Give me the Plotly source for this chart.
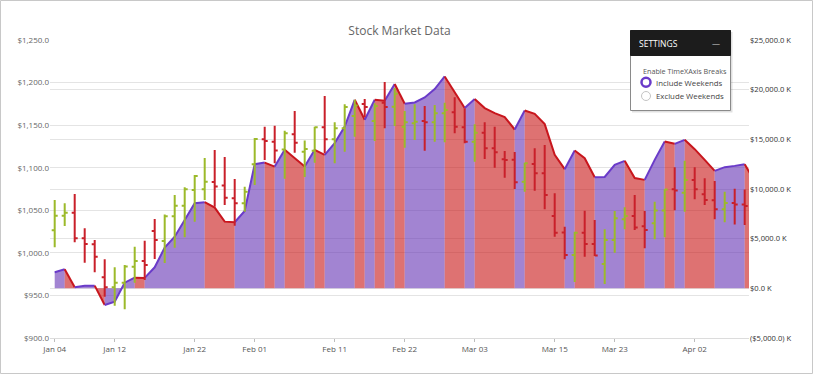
import pandas as pd
import plotly.graph_objects as go

# ---------------- data ----------------
dates = [d.strftime("%Y-%m-%d") for d in pd.bdate_range("2010-01-04", periods=71)]

open_ = [1026.5, 1043.6, 1047.2, 1017.1, 1010.0, 971.3, 959.5, 965.0, 983.8, 990.4,
         1025.7, 1014.0, 1043.0, 1055.4, 1073.8, 1074.7, 1083.2, 1079.1, 1064.1, 1058.2,
         1104.0, 1133.4, 1130.6, 1121.4, 1139.3, 1118.8, 1120.0, 1147.5, 1133.4, 1146.3,
         1160.7, 1174.9, 1154.9, 1176.2, 1171.7, 1148.2, 1152.2, 1154.9, 1153.3, 1163.9,
         1165.1, 1147.5, 1130.6, 1141.1, 1122.8, 1109.9, 1109.4, 1083.6, 1104.4, 1093.4,
         1043.3, 1024.0, 997.5, 1023.7, 1010.4, 986.9, 1015.1, 1039.4, 1043.3, 1031.3,
         1034.8, 1049.8, 1074.7, 1070.7, 1085.6, 1068.8, 1061.7, 1051.2, 1058.6, 1056.8]
high = [1062.1, 1058.2, 1069.1, 1028.8, 1015.1, 992.4, 983.0, 985.7, 1007.2, 1014.3,
        1039.8, 1045.0, 1068.0, 1077.0, 1091.4, 1111.4, 1120.8, 1112.6, 1086.7, 1077.7,
        1134.9, 1148.2, 1149.4, 1143.5, 1166.6, 1132.0, 1148.2, 1184.2, 1153.3, 1174.5,
        1179.9, 1180.8, 1175.8, 1200.7, 1193.6, 1166.6, 1174.5, 1172.5, 1173.7, 1176.4,
        1182.7, 1169.8, 1151.0, 1153.3, 1148.2, 1119.6, 1118.5, 1105.9, 1122.8, 1126.7,
        1070.0, 1030.7, 1024.9, 1049.5, 1038.6, 1027.7, 1049.2, 1053.5, 1068.0, 1049.2,
        1060.1, 1074.7, 1100.5, 1108.3, 1100.5, 1087.6, 1084.4, 1071.9, 1075.2, 1074.3]
low = [1006.5, 1031.5, 1012.4, 988.4, 977.2, 948.5, 937.9, 933.7, 965.0, 968.0,
       992.8, 988.0, 1006.0, 1018.3, 1036.6, 1062.1, 1054.2, 1056.2, 1031.9, 1048.3,
       1079.7, 1109.1, 1105.2, 1087.1, 1117.6, 1089.1, 1105.9, 1116.9, 1105.2, 1118.8,
       1136.4, 1159.6, 1131.4, 1146.3, 1149.0, 1123.5, 1132.6, 1120.0, 1130.6, 1129.9,
       1140.4, 1128.7, 1107.1, 1110.2, 1100.0, 1088.3, 1075.0, 1071.8, 1073.0, 1051.2,
       1019.0, 992.4, 965.8, 995.5, 996.3, 963.4, 1000.2, 1027.7, 1026.8, 1005.4,
       1016.0, 1018.3, 1050.0, 1048.3, 1062.9, 1056.2, 1039.4, 1035.9, 1033.3, 1032.7]
close = [1043.6, 1047.2, 1017.1, 1010.4, 995.5, 959.5, 965.0, 984.0, 990.4, 985.7,
         1015.1, 1043.0, 1055.4, 1074.7, 1090.3, 1083.6, 1078.0, 1064.8, 1058.2, 1071.9,
         1133.7, 1131.4, 1120.2, 1140.4, 1129.4, 1122.0, 1147.5, 1133.4, 1146.3, 1171.3,
         1173.2, 1171.3, 1172.5, 1171.3, 1186.9, 1153.3, 1154.1, 1153.3, 1163.9, 1167.8,
         1148.2, 1130.6, 1141.1, 1122.8, 1118.1, 1109.1, 1082.9, 1105.2, 1093.4, 1068.0,
         1023.7, 997.5, 1023.7, 1010.4, 997.0, 1015.1, 1040.6, 1043.3, 1029.8, 1026.8,
         1049.8, 1074.3, 1073.2, 1085.6, 1074.7, 1062.1, 1051.2, 1058.6, 1056.8, 1055.0]

# volume-like series on right axis (thousands)
volume_k = [1613, 1915, 100, 250, 270, -1683, -1351, 565, 1069, 1050,
            2117, 4100, 5200, 6885, 8569, 8670, 8125, 6714, 6653, 7792,
            12500, 12661, 12258, 13942, 13105, 12258, 13942, 13438, 14617, 16290,
            18982, 16966, 18982, 18880, 20565, 18579, 18710, 19214, 20060, 21331,
            19800, 18145, 19052, 18145, 17641, 17238, 15990, 17903, 17571, 16532,
            13437, 11996, 13871, 13105, 11190, 11210, 12429, 12833, 11100, 10917,
            12933, 14778, 14546, 14950, 14012, 12933, 11825, 12198, 12329, 12500,
            10800]

x_tick_dates = ["2010-01-04", "2010-01-12", "2010-01-22", "2010-02-01", "2010-02-11",
                "2010-02-22", "2010-03-03", "2010-03-15", "2010-03-23", "2010-04-02"]
x_tick_labels = ["Jan 04", "Jan 12", "Jan 22", "Feb 01", "Feb 11",
                 "Feb 22", "Mar 03", "Mar 15", "Mar 23", "Apr 02"]
price_ticks = [900, 950, 1000, 1050, 1100, 1150, 1200, 1250]
price_tick_labels = ["$900.0", "$950.0", "$1,000.0", "$1,050.0", "$1,100.0",
                     "$1,150.0", "$1,200.0", "$1,250.0"]
volume_ticks = [-5000, 0, 5000, 10000, 15000, 20000, 25000]
volume_tick_labels = ["($5,000.0) K", "$0.0 K", "$5,000.0 K", "$10,000.0 K",
                      "$15,000.0 K", "$20,000.0 K", "$25,000.0 K"]

# ---------------- layout geometry ----------------
W, H = 814, 375
ML, MR, MT, MB = 50, 65, 40, 37
PW, PH = W - ML - MR, H - MT - MB


def px(x):
    return (x - ML) / PW


def py(y):
    return (H - MB - y) / PH


UP_LINE, UP_FILL = "#6a3bc9", "rgba(100,50,180,0.6)"
DN_LINE, DN_FILL = "#c8161d", "rgba(200,20,20,0.6)"

fig = go.Figure()

# area (volume) on the base y axis (right side), split into rising / falling runs
n = len(volume_k)
dirs = [volume_k[i + 1] >= volume_k[i] for i in range(n - 1)]
start = 0
for i in range(1, n):
    if i == n - 1 or dirs[i] != dirs[start]:
        up = dirs[start]
        fig.add_trace(go.Scatter(
            x=dates[start:i + 1], y=volume_k[start:i + 1], yaxis="y",
            mode="lines", fill="tozeroy",
            fillcolor=UP_FILL if up else DN_FILL,
            line=dict(color=UP_LINE if up else DN_LINE, width=2),
            hoverinfo="skip", showlegend=False))
        start = i

# OHLC (price) on the overlaying axis (left side) so it is drawn on top
fig.add_trace(go.Ohlc(
    x=dates[:len(open_)], open=open_, high=high, low=low, close=close, yaxis="y2",
    increasing=dict(line=dict(color="#9cba2a", width=2)),
    decreasing=dict(line=dict(color="#c9202a", width=2)),
    tickwidth=0.3, hoverinfo="skip", showlegend=False))

shapes = [
    dict(type="rect", xref="paper", yref="paper", x0=px(0.5), x1=px(812.5),
         y0=py(373.5), y1=py(0.5), line=dict(color="#c8c8c8", width=1), layer="above"),
    dict(type="rect", xref="paper", yref="paper", x0=px(632), x1=px(732.5),
         y0=py(112.5), y1=py(32), fillcolor="rgba(0,0,0,0.12)", line=dict(width=0)),
    dict(type="rect", xref="paper", yref="paper", x0=px(630.5), x1=px(730.5),
         y0=py(110.5), y1=py(30.5), fillcolor="white", line=dict(color="#8a8a8a", width=1)),
    dict(type="rect", xref="paper", yref="paper", x0=px(630.5), x1=px(730.5),
         y0=py(55.5), y1=py(30.5), fillcolor="#1c1c1c", line=dict(color="#1c1c1c", width=1)),
    dict(type="circle", xref="paper", yref="paper", x0=px(641.5), x1=px(650.5),
         y0=py(86.8), y1=py(77.8), fillcolor="white", line=dict(color="#6a3bc9", width=2.5)),
    dict(type="circle", xref="paper", yref="paper", x0=px(641.5), x1=px(650.5),
         y0=py(100.5), y1=py(91.5), fillcolor="white", line=dict(color="#c4c4c4", width=1)),
]

TXT = "Open Sans, Noto Sans, sans-serif"
annotations = [
    dict(text="SETTINGS", x=px(637), y=py(43), xref="paper", yref="paper",
         xanchor="left", yanchor="middle", showarrow=False,
         font=dict(family=TXT, size=8.5, color="white")),
    dict(text="—", x=px(716), y=py(42.5), xref="paper", yref="paper",
         xanchor="center", yanchor="middle", showarrow=False,
         font=dict(family=TXT, size=8, color="#cccccc")),
    dict(text="Enable TimeXAxis Breaks", x=px(640.5), y=py(70.5), xref="paper", yref="paper",
         xanchor="left", yanchor="middle", showarrow=False,
         font=dict(family=TXT, size=7.2, color="#555555")),
    dict(text="Include Weekends", x=px(653.5), y=py(82.5), xref="paper", yref="paper",
         xanchor="left", yanchor="middle", showarrow=False,
         font=dict(family=TXT, size=7.8, color="#444444")),
    dict(text="Exclude Weekends", x=px(653.5), y=py(96.3), xref="paper", yref="paper",
         xanchor="left", yanchor="middle", showarrow=False,
         font=dict(family=TXT, size=7.8, color="#444444")),
]

fig.update_layout(
    width=W, height=H, margin=dict(l=ML, r=MR, t=MT, b=MB, autoexpand=False),
    paper_bgcolor="white", plot_bgcolor="white",
    title=dict(text="Stock Market Data", x=0.5, xref="paper", xanchor="center",
               y=1 - 31 / H, yref="container", yanchor="middle",
               font=dict(family=TXT, size=12, color="#666666")),
    hovermode=False, showlegend=False,
    xaxis=dict(type="category", categoryorder="array", categoryarray=dates,
               range=[-0.47, 69.43], tickvals=x_tick_dates, ticktext=x_tick_labels,
               showgrid=False, showline=True, linecolor="#dcdcdc", linewidth=1,
               ticks="outside", ticklen=3, tickcolor="#bdbdbd", tickwidth=1,
               tickfont=dict(family=TXT, size=8, color="#555555"),
               rangeslider=dict(visible=False), automargin=False, zeroline=False,
               fixedrange=True),
    yaxis=dict(range=[-5000, 25000], side="right",
               tickvals=volume_ticks, ticktext=volume_tick_labels,
               showgrid=True, gridcolor="#e4e4e4", gridwidth=1, zeroline=False,
               tickfont=dict(family=TXT, size=7.6, color="#333333"),
               automargin=False, ticks="", fixedrange=True),
    yaxis2=dict(range=[900, 1250], overlaying="y", side="left",
                tickvals=price_ticks, ticktext=price_tick_labels,
                showgrid=True, gridcolor="#e4e4e4", gridwidth=1, zeroline=False,
                tickfont=dict(family=TXT, size=8, color="#666666"),
                automargin=False, ticks="", fixedrange=True),
    shapes=shapes, annotations=annotations,
)

fig.write_html("out.html", config={"displayModeBar": False},
               post_script="document.body.style.margin='0';document.body.style.overflow='hidden';")
